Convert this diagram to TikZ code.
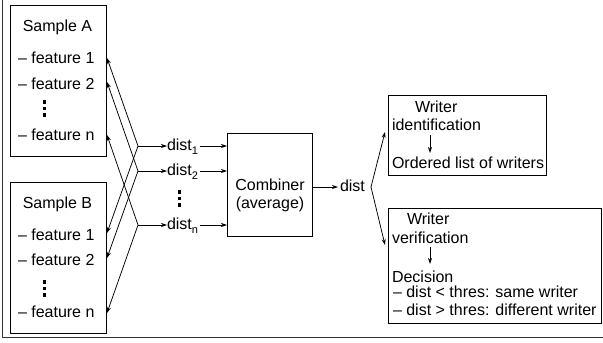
\documentclass[tikz,border=0pt]{standalone}
\usepackage{fontspec}
\setmainfont{Liberation Sans}
\usetikzlibrary{arrows.meta,calc}
\newcommand{\sbs}[1]{\raisebox{-4pt}{\fontsize{11}{11}\selectfont #1}}
\begin{document}
\begin{tikzpicture}[x=1pt,y=-1pt,
  every node/.style={inner sep=0pt, outer sep=0pt, font=\fontsize{16}{19}\selectfont},
  txt/.style={anchor=base west},
  ctxt/.style={anchor=base},
  boxst/.style={draw, line width=1pt, anchor=north west},
  arr/.style={-{Stealth[length=6pt,width=4pt]}, line width=0.75pt},
  vdot/.style={fill=black}]
\useasboundingbox (0,0) rectangle (603,343);
\draw[black!80, line width=1.5pt] (2.5,0) -- (2.5,337.5) -- (603,337.5);

% Sample boxes
\node[boxst, minimum width=96pt, minimum height=151pt] (boxA) at (10,5) {};
\node[boxst, minimum width=96pt, minimum height=151pt] (boxB) at (10,182) {};
\node[ctxt] (sa) at (57.5,31) {Sample A};
\node[txt] (fa1) at (18,63.5) {– feature 1};
\node[txt] (fa2) at (18,89.5) {– feature 2};
\node[txt] (fan) at (18,140) {– feature n};
\node[ctxt] (sb) at (57.5,208) {Sample B};
\node[txt] (fb1) at (18,240) {– feature 1};
\node[txt] (fb2) at (18,265.5) {– feature 2};
\node[txt] (fbn) at (18,317) {– feature n};
\foreach \y in {102,108.5,115,282,288.5,295}{\fill[vdot] (42.5,\y-1.7) rectangle (45.5,\y+1.7);}
\foreach \y in {192,198.5,205}{\fill[vdot] (177.5,\y-1.7) rectangle (180.5,\y+1.7);}

% tips on sample boxes
\coordinate (ta1) at (107,58);
\coordinate (ta2) at (107,82);
\coordinate (tan) at (107,135);
\coordinate (tb1) at (107,233);
\coordinate (tb2) at (107,258);
\coordinate (tbn) at (107,313);
% junctions
\coordinate (j1) at (138,146);
\coordinate (j2) at (138,171);
\coordinate (jn) at (138,225);

% dist labels
\node[txt] (d1) at (167,150.5) {dist\sbs{1}};
\node[txt] (d2) at (167,175.5) {dist\sbs{2}};
\node[txt] (dn) at (167,229.5) {dist\sbs{n}};

% Combiner
\node[boxst, minimum width=85pt, minimum height=103pt] (comb) at (227,133) {};
\node[ctxt] (c1) at (270,190) {Combiner};
\node[ctxt] (c2) at (270,208) {(average)};

\draw[arr] (j1) -- (ta1);
\draw[arr] (j1) -- (tb1);
\draw[arr] (j2) -- (ta2);
\draw[arr] (j2) -- (tb2);
\draw[arr] (jn) -- (tan);
\draw[arr] (jn) -- (tbn);
\draw[arr] (j1) -- (j1 -| d1.west);
\draw[arr] (j2) -- (j2 -| d2.west);
\draw[arr] (jn) -- (jn -| dn.west);
\draw[arr] ([xshift=2pt]d1.east |- j1) -- (j1 -| comb.west);
\draw[arr] ([xshift=2pt]d2.east |- j2) -- (j2 -| comb.west);
\draw[arr] ([xshift=2pt]dn.east |- jn) -- (jn -| comb.west);

% output dist
\node[txt] (dd) at (340,191) {dist};
\coordinate (jd) at (371,187);
\draw[arr] (comb.east |- jd) -- (338,187);

% Right boxes
\node[boxst, minimum width=158pt, minimum height=80pt] (idbox) at (388,95) {};
\node[boxst, minimum width=213pt, minimum height=115pt] (vbox) at (388,208) {};
\coordinate (ti) at (385,132);
\coordinate (tv) at (385,245);
\draw[arr] (jd) -- (ti);
\draw[arr] (jd) -- (tv);

\node[txt] (w1) at (415,112) {Writer};
\node[txt] (idt) at (392,130) {identification};
\node[txt] (ol) at (392,168) {Ordered list of writers};
\draw[arr] (idt.south -| 430,0) ++(0,5) -- (430,153);

\node[txt] (w2) at (407,224) {Writer};
\node[txt] (vt) at (392,243) {verification};
\draw[arr] (430,247) -- (430,264);
\node[txt] (dec) at (392,282) {Decision};
\node[txt] (r1) at (393,297.5) {– dist < thres: same writer};
\node[txt] (r2) at (393,315) {– dist > thres: different writer};
\end{tikzpicture}
\end{document}
